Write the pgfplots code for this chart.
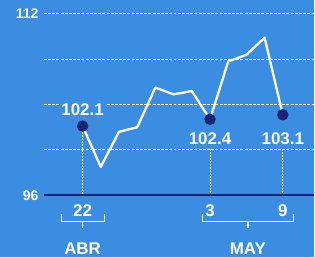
\documentclass[border=0pt]{standalone}
\usepackage{pgfplots}
\pgfplotsset{compat=1.18}
\usepackage{fontspec}
\setmainfont{Liberation Sans}
\definecolor{bg}{RGB}{59,141,226}
\definecolor{navy}{RGB}{27,36,112}
\begin{document}
\begin{tikzpicture}[x=1pt,y=1pt]
\fill[bg] (0,0) rectangle (315,258);
\begin{axis}[at={(44pt,62pt)}, anchor=south west, scale only axis,
  width=271pt, height=182pt,
  xmin=-2.13, xmax=12.7, ymin=96, ymax=112,
  axis line style={draw=none},
  xtick=\empty,
  ytick={96,100,104,108,112}, yticklabels={96,,,,112},
  major tick length=0pt,
  ymajorgrids, grid style={white, line width=1.1pt, dash pattern=on 3pt off 1.2pt},
  /pgf/number format/assume math mode=true,
  yticklabel style={font=\bfseries\fontsize{14}{14}\selectfont, text=white, xshift=-2pt},
  clip=false]
\draw[navy, line width=2.5pt] (rel axis cs:0,0) -- (rel axis cs:1,0);
% vertical guide lines
\draw[white, line width=0.9pt, dash pattern=on 2pt off 1pt] (axis cs:0,102.1) -- (axis cs:0,96.15);
\draw[white, line width=0.9pt, dash pattern=on 2pt off 1pt] (axis cs:7,100.1) -- (axis cs:7,96.15);
\draw[white, line width=0.9pt, dash pattern=on 2pt off 1pt] (axis cs:11,100.1) -- (axis cs:11,96.15);
\addplot[white, line width=2.3pt, line join=round] coordinates {
 (0,102.1) (1,98.5) (2,101.6) (3,102.0) (4,105.5) (5,104.9) (6,105.2)
 (7,102.7) (8,107.8) (9,108.4) (10,109.9) (11,103.1)};
\addplot[only marks, mark=*, mark size=5.5pt, navy] coordinates {(0,102.1) (7,102.7) (11,103.1)};
% value labels
\node[fill=bg, inner sep=1.5pt, text=white, font=\bfseries\fontsize{17}{17}\selectfont] at (axis cs:0,103.56) {102.1};
\node[text=white, inner sep=1pt, font=\bfseries\fontsize{17}{17}\selectfont] at (axis cs:7,101.0) {102.4};
\node[text=white, inner sep=1pt, font=\bfseries\fontsize{17}{17}\selectfont] at (axis cs:11,101.0) {103.1};
% date labels
\node[text=white, font=\bfseries\fontsize{17}{17}\selectfont] at (axis cs:0,94.68) {22};
\node[text=white, font=\bfseries\fontsize{17}{17}\selectfont] at (axis cs:7,94.68) {3};
\node[text=white, font=\bfseries\fontsize{17}{17}\selectfont] at (axis cs:11,94.68) {9};
\draw[white, line width=1.3pt] (axis cs:-1.15,94.33) -- (axis cs:-1.15,93.71) -- (axis cs:1.2,93.71) -- (axis cs:1.2,94.33);
\draw[white, line width=1.3pt] (axis cs:0,93.71) -- (axis cs:0,93.15);
\draw[white, line width=1.3pt] (axis cs:6.57,94.33) -- (axis cs:6.57,93.71) -- (axis cs:11.6,93.71) -- (axis cs:11.6,94.33);
\draw[white, line width=1.3pt] (axis cs:9.08,93.71) -- (axis cs:9.08,93.15);
\node[text=white, font=\bfseries\fontsize{17}{17}\selectfont] at (axis cs:0,91.3) {ABR};
\node[text=white, font=\bfseries\fontsize{17}{17}\selectfont] at (axis cs:9.08,91.3) {MAY};
\end{axis}
\end{tikzpicture}
\end{document}
